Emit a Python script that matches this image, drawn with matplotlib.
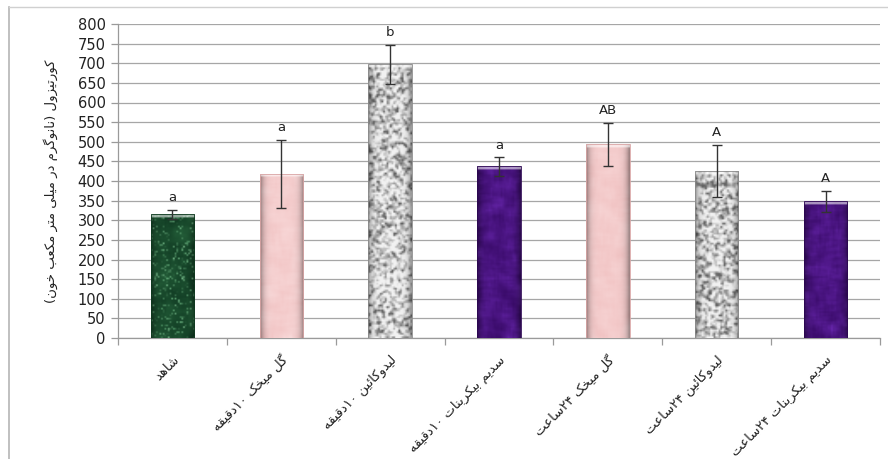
import re
import numpy as np
import matplotlib
matplotlib.use("Agg")
import matplotlib.pyplot as plt
from matplotlib.lines import Line2D

# ---- data -------------------------------------------------------------
categories = [
    "شاهد",
    "گل میخک ۱۰دقیقه",
    "لیدوکائین ۱۰دقیقه",
    "سدیم بیکربنات ۱۰دقیقه",
    "گل میخک ۲۴ساعت",
    "لیدوکائین ۲۴ساعت",
    "سدیم بیکربنات ۲۴ساعت",
]
means = [315, 418, 697, 437, 494, 425, 348]
errors = [12, 87, 50, 23, 55, 67, 27]
letters = ["a", "a", "b", "a", "AB", "A", "A"]
y_label = "کورتیزول (نانوگرم در میلی متر مکعب خون)"
y_ticks = list(range(0, 801, 50))

# ---- minimal Persian shaping (contextual forms + visual order) --------
FORMS = {
    "ا": ("\uFE8D", "\uFE8E", None, None),
    "ب": ("\uFE8F", "\uFE90", "\uFE91", "\uFE92"),
    "ت": ("\uFE95", "\uFE96", "\uFE97", "\uFE98"),
    "خ": ("\uFEA5", "\uFEA6", "\uFEA7", "\uFEA8"),
    "د": ("\uFEA9", "\uFEAA", None, None),
    "ر": ("\uFEAD", "\uFEAE", None, None),
    "ز": ("\uFEAF", "\uFEB0", None, None),
    "س": ("\uFEB1", "\uFEB2", "\uFEB3", "\uFEB4"),
    "ش": ("\uFEB5", "\uFEB6", "\uFEB7", "\uFEB8"),
    "ع": ("\uFEC9", "\uFECA", "\uFECB", "\uFECC"),
    "ق": ("\uFED5", "\uFED6", "\uFED7", "\uFED8"),
    "ل": ("\uFEDD", "\uFEDE", "\uFEDF", "\uFEE0"),
    "م": ("\uFEE1", "\uFEE2", "\uFEE3", "\uFEE4"),
    "ن": ("\uFEE5", "\uFEE6", "\uFEE7", "\uFEE8"),
    "ه": ("\uFEE9", "\uFEEA", "\uFEEB", "\uFEEC"),
    "و": ("\uFEED", "\uFEEE", None, None),
    "ئ": ("\uFE89", "\uFE8A", "\uFE8B", "\uFE8C"),
    "ک": ("\uFB8E", "\uFB8F", "\uFB90", "\uFB91"),
    "گ": ("\uFB92", "\uFB93", "\uFB94", "\uFB95"),
    "ی": ("\uFBFC", "\uFBFD", "\uFBFE", "\uFBFF"),
}
MIRROR = {"(": ")", ")": "("}
DIGITS = r"[0-9\u06F0-\u06F9]+"


def shape(text):
    out = []
    n = len(text)
    for i, c in enumerate(text):
        if c not in FORMS:
            out.append(c)
            continue
        prev = text[i - 1] if i > 0 else None
        nxt = text[i + 1] if i + 1 < n else None
        join_prev = prev in FORMS and FORMS[prev][2] is not None
        join_next = nxt in FORMS and FORMS[c][2] is not None
        iso, fin, ini, med = FORMS[c]
        if join_prev and join_next:
            out.append(med)
        elif join_prev:
            out.append(fin)
        elif join_next:
            out.append(ini)
        else:
            out.append(iso)
    shaped = "".join(out)
    runs = re.findall(DIGITS + r"|[^0-9\u06F0-\u06F9]+", shaped)
    vis = []
    for r in reversed(runs):
        if re.fullmatch(DIGITS, r):
            vis.append(r)
        else:
            vis.append("".join(MIRROR.get(ch, ch) for ch in reversed(r)))
    return "".join(vis)


# ---- textures for the bar fills ---------------------------------------
def blur(a, k):
    if k <= 1:
        return a
    ker = np.ones(k) / k
    f = lambda v: np.convolve(np.pad(v, k, mode="edge"), ker, mode="same")[k:-k]
    a = np.apply_along_axis(f, 0, a)
    return np.apply_along_axis(f, 1, a)


def norm(a):
    return (a - a.min()) / (a.max() - a.min() + 1e-9)


def blend(c0, c1, t):
    c0 = np.array(matplotlib.colors.to_rgb(c0))
    c1 = np.array(matplotlib.colors.to_rgb(c1))
    return c0[None, None, :] * (1 - t[..., None]) + c1[None, None, :] * t[..., None]


def texture(kind, h, w, seed):
    rng = np.random.default_rng(seed)
    if kind == "marble":
        n = norm(blur(rng.random((h, w)), 7))
        v = np.abs(np.sin(n * 22.0))
        t = np.clip(1 - v * 4.0, 0, 1)
        base = norm(blur(rng.random((h, w)), 9))
        img = blend("#0e3620", "#2a6a40", base)
        vein = blend("#3f8a58", "#8fcfa0", norm(blur(rng.random((h, w)), 3)))
        img = img * (1 - t[..., None]) + vein * t[..., None]
    elif kind == "pink":
        n = norm(blur(rng.random((h, w)), 7))
        img = blend("#f0c0c0", "#f9dada", n)
    elif kind == "speckle":
        n = norm(blur(rng.random((h, w)), 2))
        t = np.clip((n - 0.2) * 2.4, 0, 1) ** 0.7
        img = blend("#666666", "#f2f2f2", t)
    else:
        n = norm(blur(rng.random((h, w)), 6))
        img = blend("#3a0b6a", "#6a28b0", n ** 1.4)
    # rounded shading across the bar and a light rim at the top
    xs = np.linspace(-1, 1, w)
    shade = 1.0 - 0.35 * np.abs(xs) ** 6
    img = img * shade[None, :, None]
    img[:2] = img[:2] * 0.45 + 0.55
    return np.clip(img, 0, 1)


kinds = ["marble", "pink", "speckle", "purple", "pink", "speckle", "purple"]
edge_colors = ["#0f3a20", "#d9a5a5", "#8a8a8a", "#2c0752", "#d9a5a5", "#8a8a8a", "#2c0752"]

# ---- figure -----------------------------------------------------------
plt.rcParams["font.family"] = ["DejaVu Sans"]
fig = plt.figure(figsize=(8.88, 4.59), dpi=100)
ax = fig.add_axes([118 / 888, 1 - 338 / 459, (880 - 118) / 888, (338 - 24) / 459])

x = np.arange(len(categories))
width = 0.4
bars = ax.bar(x, means, width=width, color="none", edgecolor="none", zorder=3)
for i, b in enumerate(bars):
    cells_w = 26
    cells_h = max(8, int(b.get_height() * 0.236))
    img = texture(kinds[i], cells_h, cells_w, seed=11 + i)
    im = ax.imshow(img, extent=(b.get_x(), b.get_x() + b.get_width(), 0, b.get_height()),
                   aspect="auto", interpolation="bilinear", zorder=3)
    im.set_clip_path(b)
    b.set_edgecolor(edge_colors[i])
    b.set_linewidth(0.6)
    b.set_zorder(4)

ax.errorbar(x, means, yerr=errors, fmt="none", ecolor="#333333", elinewidth=1.0,
            capsize=3.6, capthick=1.0, zorder=5)

for xi, m, e, lab in zip(x, means, errors, letters):
    ax.annotate(lab, (xi, m + e), xytext=(0, 4), textcoords="offset points",
                ha="center", va="bottom", fontsize=9.5, color="#222222", zorder=6)

ax.set_xlim(-0.5, len(categories) - 0.5)
ax.set_ylim(0, 800)
ax.set_yticks(y_ticks)
ax.yaxis.grid(True, color="#a6a6a6", linewidth=0.9)
ax.set_axisbelow(True)

ax.set_xticks(x)
ax.set_xticklabels([shape(c) for c in categories], rotation=45, ha="right",
                   va="top", rotation_mode="anchor", fontsize=9.5, color="#222222")
ax.set_xticks(np.arange(-0.5, len(categories), 1.0), minor=True)
ax.tick_params(axis="x", which="major", length=0, pad=11)
ax.tick_params(axis="x", which="minor", length=5, color="#9a9a9a", width=0.9)
ax.tick_params(axis="y", length=5, color="#9a9a9a", width=0.9, labelsize=10.5,
               labelcolor="#222222", pad=4)

for s in ("top", "right"):
    ax.spines[s].set_visible(False)
for s in ("left", "bottom"):
    ax.spines[s].set_color("#9a9a9a")
    ax.spines[s].set_linewidth(0.9)

ax.set_ylabel(shape(y_label), fontsize=9.5, color="#222222", labelpad=14)

# thin frame around the chart area
fig.add_artist(Line2D([8.5 / 888, 8.5 / 888], [0, 1 - 7 / 459], transform=fig.transFigure,
                      color="#b5b5b5", linewidth=1.2))
fig.add_artist(Line2D([8.5 / 888, 1], [1 - 7 / 459, 1 - 7 / 459], transform=fig.transFigure,
                      color="#d0d0d0", linewidth=1.0))

fig.savefig("out.png", dpi=100)
